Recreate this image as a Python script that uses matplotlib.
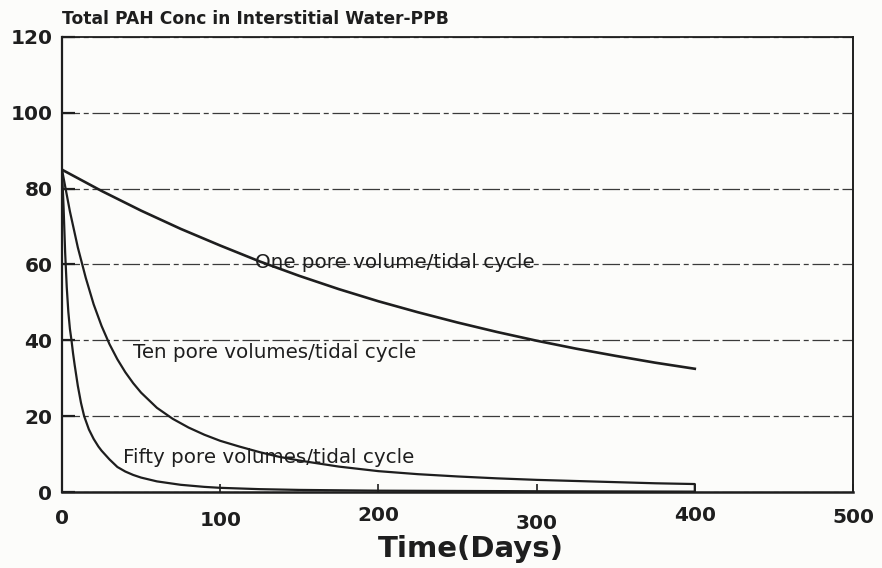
import matplotlib.pyplot as plt
from matplotlib.transforms import offset_copy

# concentration (ppb) vs time (days) for each flushing rate
one_days = [0, 25, 50, 75, 100, 125, 150, 175, 200, 225, 250, 275, 300, 325, 350, 375, 400]
one_ppb = [85, 79.4, 74.2, 69.4, 65, 60.8, 57, 53.5, 50.3, 47.4, 44.7, 42.2, 39.9, 37.8, 35.9,
           34.1, 32.5]

ten_days = [0, 5, 10, 15, 20, 25, 30, 35, 40, 45, 50, 60, 70, 80, 90, 100, 112, 125, 137, 150,
            175, 200, 225, 250, 275, 300, 325, 350, 375, 400, 400]
ten_ppb = [85, 74, 64.5, 56.5, 49.5, 43.8, 39, 35, 31.6, 28.7, 26.2, 22.2, 19.3, 17, 15.1, 13.5,
           12, 10.5, 9.3, 8.3, 6.7, 5.5, 4.7, 4.1, 3.6, 3.2, 2.9, 2.6, 2.3, 2.1, 0]

fifty_days = [0, 1, 2, 3, 4, 5, 6, 7, 8, 10, 12, 14, 17, 20, 23, 25, 30, 35, 40, 45, 50, 60,
              75, 90, 100, 125, 150, 200, 300, 400]
fifty_ppb = [85, 75, 63, 54, 47.5, 43, 40, 36.5, 33.5, 28, 23.5, 20, 16.5, 14, 12, 10.9, 8.6,
             6.6, 5.4, 4.5, 3.8, 2.8, 1.9, 1.35, 1.1, 0.75, 0.55, 0.35, 0.2, 0.1]

curve_labels = ["One pore volume/tidal cycle", "Ten pore volumes/tidal cycle",
                "Fifty pore volumes/tidal cycle"]
label_at = [(122, 60.4), (45, 36.9), (38.5, 9.0)]

x_ticks = [0, 100, 200, 300, 400, 500]
y_ticks = [0, 20, 40, 60, 80, 100, 120]
label_drop_pt = [19.2, 20.7, 17.1, 22.8, 17.1, 18.7]  # tick labels sit unevenly

ink = "#1e1e1e"
plt.rcParams["font.family"] = "DejaVu Sans"

fig = plt.figure(figsize=(8.82, 5.68), dpi=100, facecolor="#fcfcfa")
ax = fig.add_axes([0.0703, 0.1338, 0.8968, 0.8011])
ax.set_facecolor("#fcfcfa")

ax.plot(one_days, one_ppb, color=ink, lw=1.9, zorder=3)
ax.plot(ten_days, ten_ppb, color=ink, lw=1.6, zorder=3)
ax.plot(fifty_days, fifty_ppb, color=ink, lw=1.6, zorder=3)

for text, (x, y) in zip(curve_labels, label_at):
    ax.text(x, y, text, fontsize=14.3, color=ink, va="center", ha="left", zorder=4)

ax.set_xlim(0, 500)
ax.set_ylim(0, 120)
ax.set_xticks(x_ticks)
ax.set_yticks(y_ticks)
ax.grid(axis="y", color="#3a3a3a", lw=0.9, linestyle=(0, (14, 3, 4, 3)))
ax.set_axisbelow(True)

ax.tick_params(axis="y", direction="in", length=9, width=1.6, color=ink,
               labelsize=14.5, pad=7, labelcolor=ink)
ax.tick_params(axis="x", direction="in", length=6, width=1.2, color=ink,
               labelbottom=False)
for lbl in ax.get_yticklabels():
    lbl.set_fontweight("bold")

for side, w in [("left", 1.6), ("bottom", 1.8), ("top", 1.3), ("right", 1.4)]:
    ax.spines[side].set_linewidth(w)
    ax.spines[side].set_color(ink)

# x tick labels drawn by hand so each can sit at its own height
base = ax.get_xaxis_transform()
for t, drop in zip(x_ticks, label_drop_pt):
    tr = offset_copy(base, fig=fig, x=0, y=-drop, units="points")
    ax.text(t, 0, str(t), transform=tr, ha="center", va="center",
            fontsize=14.5, fontweight="bold", color=ink)

ax.text(0.517, -0.125, "Time(Days)", transform=ax.transAxes, ha="center", va="center",
        fontsize=21, fontweight="bold", color=ink)
ax.text(0, 1.04, "Total PAH Conc in Interstitial Water-PPB", transform=ax.transAxes,
        ha="left", va="center", fontsize=12.3, fontweight="bold", color=ink)

fig.savefig("out.png", dpi=100, facecolor=fig.get_facecolor())
